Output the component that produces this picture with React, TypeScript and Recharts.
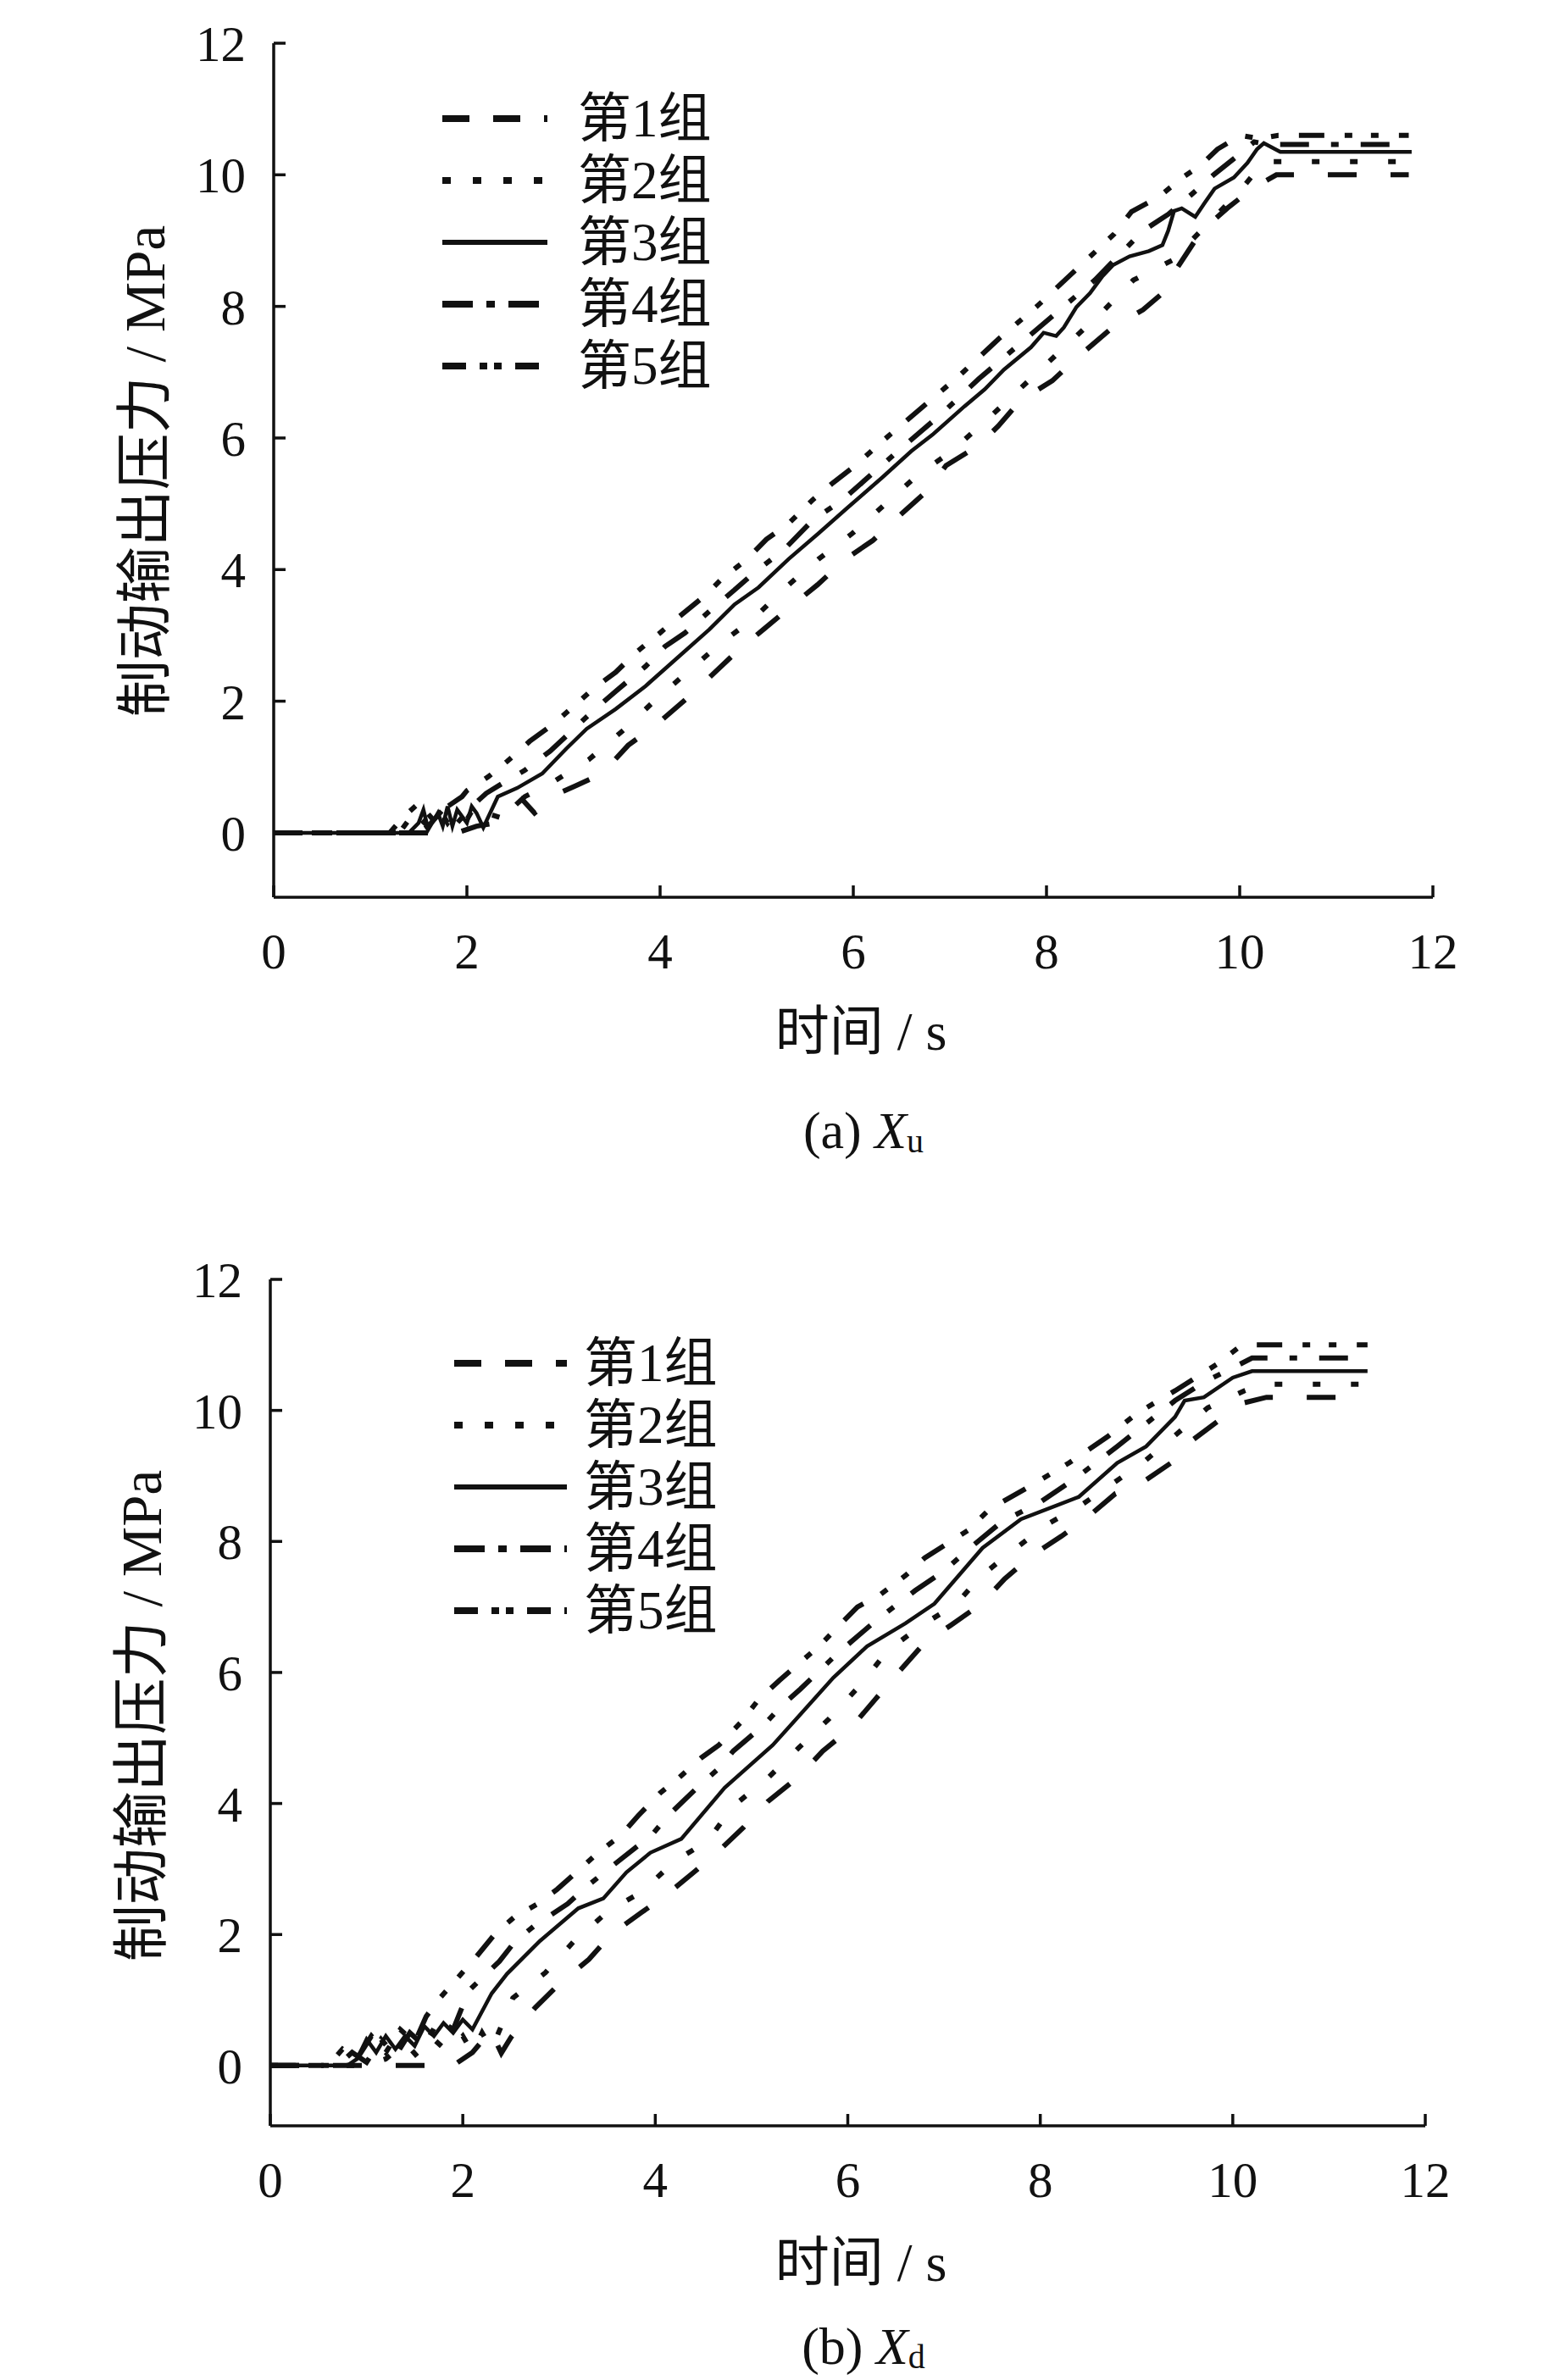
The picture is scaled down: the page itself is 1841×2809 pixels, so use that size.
import React from "react";
import { LineChart, Line, XAxis, YAxis, Legend } from "recharts";

// ---------- data ----------
const seriesNames = ["第1组", "第2组", "第3组", "第4组", "第5组"];
const xTicks = [0, 2, 4, 6, 8, 10, 12];
const yTicks = [0, 2, 4, 6, 8, 10, 12];

type P = { t: number; p: number };
const mk = (rows: number[][]): P[] => rows.map(([t, p]) => ({ t, p }));

// (a) Xu
const aGroup1 = mk([[0,0],[1.9,0],[2.1,0.1],[2.3,0.15],[2.45,0.35],[2.57,0.51],[2.7,0.3],[2.78,0.4],[2.95,0.6],[3.12,0.71],[3.4,0.9],[3.67,1.33],[3.95,1.63],[4.26,2.02],[4.51,2.36],[4.82,2.79],[5.07,3.09],[5.38,3.47],[5.63,3.77],[5.92,4.16],[6.2,4.44],[6.47,4.81],[6.76,5.19],[6.96,5.58],[7.29,5.88],[7.5,6.18],[7.73,6.57],[8.06,6.87],[8.34,7.25],[8.7,7.7],[9.0,7.95],[9.2,8.2],[9.36,8.6],[9.6,9.14],[9.87,9.49],[10.13,9.79],[10.38,10.0],[11.75,10.0]]);
const aGroup2 = mk([[0,0],[1.5,0],[1.6,0.1],[1.7,0.4],[1.8,0.15],[1.9,0.35],[2.0,0.2],[2.1,0.45],[2.2,0.3],[2.35,0.23],[2.6,0.55],[2.89,0.77],[3.26,1.11],[3.62,1.56],[3.93,1.99],[4.28,2.44],[4.62,2.87],[4.97,3.26],[5.3,3.73],[5.64,4.16],[5.99,4.55],[6.32,4.98],[6.66,5.43],[7.01,5.79],[7.4,6.3],[7.8,6.85],[8.2,7.4],[8.6,7.95],[8.9,8.4],[9.3,8.7],[9.6,9.15],[10.0,9.75],[10.25,10.2],[11.75,10.2]]);
const aGroup3 = mk([[0,0],[1.4,0],[1.5,0.15],[1.55,0.35],[1.6,0.05],[1.7,0.3],[1.75,0.1],[1.8,0.4],[1.85,0.1],[1.9,0.35],[2.0,0.15],[2.05,0.4],[2.1,0.3],[2.17,0.08],[2.32,0.55],[2.52,0.68],[2.78,0.9],[3.03,1.28],[3.24,1.58],[3.54,1.88],[3.85,2.23],[4.21,2.7],[4.51,3.09],[4.77,3.47],[5.02,3.73],[5.33,4.16],[5.64,4.55],[5.94,4.94],[6.3,5.4],[6.6,5.8],[6.82,6.05],[7.15,6.48],[7.36,6.74],[7.56,7.04],[7.84,7.38],[7.97,7.6],[8.1,7.55],[8.18,7.68],[8.31,7.99],[8.45,8.2],[8.58,8.46],[8.69,8.63],[8.86,8.76],[9.06,8.84],[9.2,8.93],[9.26,9.15],[9.32,9.45],[9.4,9.49],[9.54,9.36],[9.64,9.58],[9.74,9.79],[9.94,9.96],[10.08,10.18],[10.18,10.39],[10.25,10.48],[10.42,10.35],[11.78,10.35]]);
const aGroup4 = mk([[0,0],[1.3,0],[1.45,0.3],[1.6,0.1],[1.75,0.35],[1.9,0.15],[2.05,0.4],[2.2,0.6],[2.4,0.78],[2.6,0.95],[2.86,1.24],[3.08,1.54],[3.31,1.86],[3.54,2.15],[3.85,2.53],[4.05,2.83],[4.26,3.04],[4.56,3.43],[4.77,3.69],[4.97,3.95],[5.28,4.3],[5.58,4.75],[5.89,5.06],[6.09,5.32],[6.5,5.85],[6.9,6.35],[7.3,6.9],[7.7,7.4],[8.1,7.9],[8.5,8.4],[8.8,8.85],[9.0,9.15],[9.26,9.4],[9.5,9.7],[9.73,10.0],[10.03,10.35],[10.15,10.5],[10.3,10.46],[11.75,10.46]]);
const aGroup5 = mk([[0,0],[1.2,0],[1.35,0.25],[1.5,0.45],[1.65,0.2],[1.8,0.4],[1.95,0.55],[2.0,0.64],[2.22,0.85],[2.42,1.09],[2.65,1.39],[2.91,1.67],[3.11,1.93],[3.31,2.19],[3.54,2.44],[3.75,2.74],[4.0,3.04],[4.21,3.3],[4.46,3.6],[4.64,3.86],[4.9,4.16],[5.1,4.46],[5.33,4.7],[5.58,5.06],[5.79,5.32],[6.02,5.58],[6.3,5.95],[6.7,6.45],[7.1,6.95],[7.5,7.5],[7.9,8.0],[8.3,8.55],[8.7,9.1],[8.88,9.44],[9.16,9.66],[9.4,9.95],[9.6,10.15],[9.77,10.39],[10.01,10.6],[10.2,10.55],[10.4,10.6],[11.75,10.6]]);

// (b) Xd
const bGroup1 = mk([[0,0],[1.9,0],[2.1,0.2],[2.29,0.53],[2.4,0.19],[2.5,0.43],[2.75,0.88],[3.02,1.27],[3.31,1.62],[3.54,2.0],[3.86,2.34],[4.11,2.6],[4.4,2.95],[4.67,3.29],[4.92,3.64],[5.17,4.03],[5.49,4.41],[5.74,4.8],[6.03,5.15],[6.28,5.58],[6.53,6.01],[6.79,6.44],[7.07,6.72],[7.39,7.05],[7.63,7.43],[7.91,7.78],[8.22,8.08],[8.5,8.38],[8.78,8.73],[9.06,8.9],[9.36,9.2],[9.54,9.5],[9.83,9.82],[10.1,10.11],[10.35,10.2],[11.4,10.2]]);
const bGroup2 = mk([[0,0],[1.0,0],[1.2,0.1],[1.4,0.35],[1.55,0.1],[1.7,0.4],[1.85,0.2],[2.0,0.45],[2.1,0.2],[2.2,0.5],[2.3,0.25],[2.52,1.03],[2.86,1.42],[3.15,1.89],[3.52,2.37],[3.86,2.65],[4.2,3.12],[4.54,3.42],[4.81,3.96],[5.17,4.39],[5.49,4.85],[5.81,5.3],[6.15,5.84],[6.41,6.33],[6.75,6.7],[7.13,7.05],[7.39,7.48],[7.75,7.9],[8.06,8.25],[8.42,8.55],[8.72,8.85],[9.08,9.22],[9.41,9.63],[9.74,10.04],[10.12,10.3],[10.3,10.4],[11.4,10.4]]);
const bGroup3 = mk([[0,0],[0.8,0],[0.9,0.1],[1.0,0.4],[1.1,0.2],[1.2,0.45],[1.3,0.25],[1.4,0.45],[1.5,0.3],[1.6,0.6],[1.7,0.45],[1.8,0.65],[1.9,0.5],[2.0,0.7],[2.1,0.55],[2.3,1.1],[2.46,1.4],[2.8,1.9],[3.2,2.4],[3.46,2.55],[3.7,2.95],[3.95,3.25],[4.27,3.46],[4.72,4.24],[5.22,4.89],[5.85,5.92],[6.2,6.4],[6.6,6.75],[6.9,7.05],[7.4,7.9],[7.8,8.34],[8.4,8.68],[8.8,9.2],[9.1,9.45],[9.4,9.9],[9.5,10.15],[9.7,10.2],[10.0,10.5],[10.2,10.6],[11.4,10.6]]);
const bGroup4 = mk([[0,0],[0.7,0],[0.85,0.2],[1.0,0.05],[1.15,0.4],[1.3,0.15],[1.45,0.5],[1.6,0.3],[1.75,0.7],[1.9,0.55],[2.06,1.14],[2.38,1.59],[2.54,1.89],[2.74,2.13],[3.09,2.47],[3.27,2.71],[3.47,2.95],[3.79,3.32],[3.97,3.53],[4.13,3.81],[4.47,4.29],[4.67,4.55],[4.81,4.8],[5.13,5.2],[5.31,5.49],[5.51,5.75],[5.9,6.3],[6.3,6.8],[6.7,7.25],[7.0,7.55],[7.27,7.9],[7.6,8.3],[8.0,8.6],[8.4,9.0],[8.8,9.45],[9.1,9.8],[9.4,10.15],[9.7,10.43],[10.0,10.65],[10.2,10.8],[11.4,10.8]]);
const bGroup5 = mk([[0,0],[0.6,0],[0.75,0.25],[0.9,0.1],[1.05,0.45],[1.2,0.2],[1.35,0.55],[1.5,0.35],[1.62,0.75],[1.75,1.01],[1.96,1.36],[2.14,1.66],[2.34,2.02],[2.53,2.26],[2.78,2.47],[2.98,2.69],[3.21,2.99],[3.39,3.23],[3.64,3.51],[3.82,3.81],[4.05,4.16],[4.25,4.4],[4.48,4.7],[4.66,4.89],[4.89,5.24],[5.07,5.58],[5.29,5.88],[5.7,6.4],[6.1,7.0],[6.33,7.18],[6.6,7.48],[6.8,7.75],[7.25,8.17],[7.47,8.49],[7.9,8.85],[8.3,9.2],[8.7,9.6],[9.0,9.95],[9.4,10.3],[9.83,10.7],[10.07,10.97],[10.2,11.0],[11.4,11.0]]);

// ---------- styles ----------
const FONT = '"Liberation Serif", "Times New Roman", "Noto Sans CJK SC", serif';
const INK = "#111";
const dashes = ["34 40", "9 36", "", "34 26 9 26", "30 24 9 22 9 24"];
const legendDashes = ["32 28", "10 26", "", "36 16 10 16", "28 16 9 8 9 16"];
const widths = [6, 6, 4.5, 6, 6];

const makeLegend = (lineLen: number, textX: number, rowGap: number) => () => (
  <svg width={420} height={rowGap * 5 + 20} style={{ overflow: "visible" }}>
    {seriesNames.map((n, i) => {
      const y = 36 + i * rowGap;
      return (
        <g key={n}>
          <line x1={0} x2={lineLen} y1={y} y2={y} stroke={INK} strokeWidth={i === 2 ? 6 : 8}
            strokeDasharray={legendDashes[i] || undefined} />
          <text x={textX} y={y} dominantBaseline="central" fontFamily={FONT} fontSize={63} fill={INK}>{n}</text>
        </g>
      );
    })}
  </svg>
);

type PanelProps = {
  top: number; height: number; margin: any; yMin: number;
  groups: P[][]; legendLeft: number; legendTop: number; lineLen: number; textGap: number; rowGap: number;
};

const Panel = ({ top, height, margin, yMin, groups, legendLeft, legendTop, lineLen, textGap, rowGap }: PanelProps) => (
  <div style={{ position: "absolute", left: 0, top, width: 1841, height }}>
    <LineChart width={1841} height={height} margin={margin}>
      <XAxis dataKey="t" type="number" domain={[0, 12]} ticks={xTicks} allowDataOverflow
        height={100} tickSize={-14} tickMargin={56}
        axisLine={{ stroke: INK, strokeWidth: 3.5 }} tickLine={{ stroke: INK, strokeWidth: 3.5 }}
        tick={{ fontFamily: FONT, fontSize: 59, fill: INK }} />
      <XAxis xAxisId="top" orientation="top" type="number" domain={[0, 12]} height={0} tick={false} tickLine={false}
        axisLine={{ stroke: INK, strokeWidth: 3.5 }} />
      <YAxis type="number" domain={[yMin, 12]} ticks={yTicks} allowDataOverflow
        width={120} tickSize={-14} tickMargin={47}
        axisLine={{ stroke: INK, strokeWidth: 3.5 }} tickLine={{ stroke: INK, strokeWidth: 3.5 }}
        tick={{ fontFamily: FONT, fontSize: 59, fill: INK }} />
      <YAxis yAxisId="right" orientation="right" type="number" domain={[0, 1]} width={0} tick={false} tickLine={false}
        axisLine={{ stroke: INK, strokeWidth: 3.5 }} />
      {groups.map((g, i) => (
        <Line key={i} data={g} dataKey="p" name={seriesNames[i]} type="linear" stroke={INK}
          strokeWidth={widths[i]} strokeDasharray={dashes[i] || undefined} dot={false}
          isAnimationActive={false} />
      ))}
      <Legend layout="vertical" align="center" verticalAlign="middle"
        wrapperStyle={{ left: legendLeft, top: legendTop, width: 420 }}
        content={makeLegend(lineLen, lineLen + textGap, rowGap)} />
    </LineChart>
  </div>
);

const Titles = () => (
  <svg width={1841} height={2809} style={{ position: "absolute", left: 0, top: 0, pointerEvents: "none" }}>
    <g fontFamily={FONT} fill={INK}>
      <text transform="translate(171,556) rotate(-90)" textAnchor="middle" dominantBaseline="central" fontSize={67}>制动输出压力 / MPa</text>
      <text x={1016} y={1217} textAnchor="middle" dominantBaseline="central" fontSize={64}>时间 / s</text>
      <text x={1019} y={1334} textAnchor="middle" dominantBaseline="central" fontSize={62}>
        <tspan>(a) </tspan><tspan fontStyle="italic">X</tspan><tspan fontSize={40} dy={12}>u</tspan>
      </text>
      <text transform="translate(167,2025) rotate(-90)" textAnchor="middle" dominantBaseline="central" fontSize={67}>制动输出压力 / MPa</text>
      <text x={1016} y={2670} textAnchor="middle" dominantBaseline="central" fontSize={64}>时间 / s</text>
      <text x={1019} y={2769} textAnchor="middle" dominantBaseline="central" fontSize={62}>
        <tspan>(b) </tspan><tspan fontStyle="italic">X</tspan><tspan fontSize={40} dy={12}>d</tspan>
      </text>
    </g>
  </svg>
);

export default function App() {
  return (
    <div style={{ position: "absolute", left: 0, top: 0, width: 1841, height: 2809, background: "#fff" }}>
      <Panel top={0} height={1400} margin={{ top: 51, right: 150, bottom: 241, left: 203 }} yMin={-0.98}
        groups={[aGroup1, aGroup2, aGroup3, aGroup4, aGroup5]} legendLeft={522} legendTop={104} lineLen={124} textGap={36} rowGap={73} />
      <Panel top={1440} height={1369} margin={{ top: 70, right: 159, bottom: 200, left: 199 }} yMin={-0.92}
        groups={[bGroup1, bGroup2, bGroup3, bGroup4, bGroup5]} legendLeft={536} legendTop={1609 - 1440 - 36} lineLen={133} textGap={20} rowGap={73} />
      <Titles />
    </div>
  );
}
